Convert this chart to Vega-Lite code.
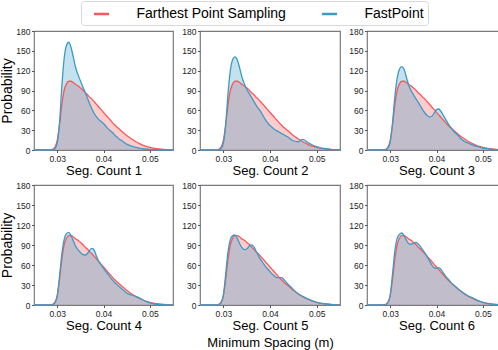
{
  "$schema": "https://vega.github.io/schema/vega-lite/v6.json",
  "padding": {"left": 0, "top": 0, "right": 0, "bottom": 0},
  "background": "white",
  "spacing": 1,
  "datasets": {
    "d": [
      {"x":0.025,"fps":0,"f1":0,"f2":0,"f3":0,"f4":0,"f5":0,"f6":0},
      {"x":0.026,"fps":0,"f1":0,"f2":0,"f3":0,"f4":0,"f5":0,"f6":0},
      {"x":0.027,"fps":0,"f1":0,"f2":0,"f3":0,"f4":0,"f5":0,"f6":0},
      {"x":0.028,"fps":0.1,"f1":0,"f2":0,"f3":0,"f4":0,"f5":0,"f6":0},
      {"x":0.0285,"fps":0.3,"f1":0,"f2":0.1,"f3":0.1,"f4":0.1,"f5":0.1,"f6":0.1},
      {"x":0.029,"fps":1,"f1":0.3,"f2":0.3,"f3":0.5,"f4":0.5,"f5":0.5,"f6":0.5},
      {"x":0.0295,"fps":4,"f1":2,"f2":2,"f3":3,"f4":3,"f5":3,"f6":3},
      {"x":0.03,"fps":14,"f1":10,"f2":10,"f3":12,"f4":12,"f5":14,"f6":14},
      {"x":0.0305,"fps":38,"f1":40,"f2":38,"f3":40,"f4":42,"f5":46,"f6":46},
      {"x":0.031,"fps":68,"f1":95,"f2":85,"f3":80,"f4":76,"f5":80,"f6":80},
      {"x":0.0315,"fps":90,"f1":138,"f2":120,"f3":108,"f4":98,"f5":98,"f6":100},
      {"x":0.032,"fps":100,"f1":158,"f2":137,"f3":122,"f4":107,"f5":104,"f6":106},
      {"x":0.0325,"fps":104,"f1":163,"f2":141,"f3":126,"f4":109,"f5":105,"f6":108},
      {"x":0.033,"fps":104,"f1":155,"f2":136,"f3":122,"f4":104,"f5":100,"f6":104},
      {"x":0.0335,"fps":102,"f1":140,"f2":124,"f3":110,"f4":96,"f5":92,"f6":97},
      {"x":0.034,"fps":99,"f1":124,"f2":110,"f3":98,"f4":88,"f5":86,"f6":92},
      {"x":0.0345,"fps":97,"f1":114,"f2":100,"f3":90,"f4":83,"f5":83,"f6":91},
      {"x":0.035,"fps":94,"f1":105,"f2":92,"f3":84,"f4":79,"f5":84,"f6":93},
      {"x":0.0355,"fps":91,"f1":96,"f2":86,"f3":78,"f4":76,"f5":88,"f6":94},
      {"x":0.036,"fps":87,"f1":88,"f2":80,"f3":73,"f4":75,"f5":90,"f6":92},
      {"x":0.0365,"fps":84,"f1":79,"f2":74,"f3":67,"f4":77,"f5":88,"f6":88},
      {"x":0.037,"fps":80,"f1":70,"f2":68,"f3":61,"f4":82,"f5":81,"f6":83},
      {"x":0.0375,"fps":77,"f1":62,"f2":63,"f3":56,"f4":85,"f5":74,"f6":78},
      {"x":0.038,"fps":73,"f1":55,"f2":58,"f3":52,"f4":82,"f5":68,"f6":72},
      {"x":0.0385,"fps":69,"f1":50,"f2":52,"f3":50,"f4":73,"f5":63,"f6":66},
      {"x":0.039,"fps":65,"f1":46,"f2":46,"f3":51,"f4":65,"f5":58,"f6":60},
      {"x":0.0395,"fps":61,"f1":43,"f2":41,"f3":56,"f4":60,"f5":54,"f6":56},
      {"x":0.04,"fps":57,"f1":40,"f2":37,"f3":61,"f4":55,"f5":50,"f6":55},
      {"x":0.0405,"fps":53,"f1":36,"f2":34,"f3":62,"f4":50,"f5":46,"f6":56},
      {"x":0.041,"fps":49,"f1":32,"f2":31,"f3":58,"f4":46,"f5":43,"f6":53},
      {"x":0.0415,"fps":45,"f1":29,"f2":29,"f3":52,"f4":41,"f5":41,"f6":48},
      {"x":0.042,"fps":41,"f1":26,"f2":27,"f3":46,"f4":37,"f5":41,"f6":43},
      {"x":0.0425,"fps":37.5,"f1":22,"f2":25,"f3":40,"f4":33,"f5":41,"f6":39},
      {"x":0.043,"fps":34,"f1":19,"f2":23,"f3":35,"f4":30,"f5":38,"f6":35},
      {"x":0.0435,"fps":31,"f1":16,"f2":21,"f3":30,"f4":27,"f5":34,"f6":31},
      {"x":0.044,"fps":28,"f1":14,"f2":19,"f3":26,"f4":24,"f5":30,"f6":28},
      {"x":0.0445,"fps":25,"f1":11,"f2":16,"f3":23,"f4":21,"f5":27,"f6":25},
      {"x":0.045,"fps":22,"f1":9,"f2":14,"f3":19,"f4":18,"f5":23,"f6":22},
      {"x":0.046,"fps":17,"f1":6,"f2":12.5,"f3":13,"f4":15,"f5":17,"f6":17},
      {"x":0.047,"fps":12.5,"f1":4,"f2":16,"f3":10,"f4":13,"f5":13,"f6":13},
      {"x":0.048,"fps":9,"f1":2.5,"f2":12,"f3":7,"f4":9.5,"f5":9.5,"f6":10},
      {"x":0.049,"fps":6,"f1":1.5,"f2":8,"f3":5,"f4":6,"f5":6.5,"f6":6.5},
      {"x":0.05,"fps":4,"f1":1,"f2":5,"f3":3,"f4":3,"f5":4,"f6":4},
      {"x":0.051,"fps":2.5,"f1":0.6,"f2":3,"f3":2,"f4":1.5,"f5":2.5,"f6":2},
      {"x":0.052,"fps":1.5,"f1":0.3,"f2":2,"f3":1,"f4":0.8,"f5":1.5,"f6":1},
      {"x":0.053,"fps":0.8,"f1":0.1,"f2":1,"f3":0.5,"f4":0.4,"f5":0.8,"f6":0.5},
      {"x":0.054,"fps":0.4,"f1":0,"f2":0.5,"f3":0.2,"f4":0.2,"f5":0.3,"f6":0.2},
      {"x":0.055,"fps":0.2,"f1":0,"f2":0.3,"f3":0.1,"f4":0.1,"f5":0.1,"f6":0.1}
    ]
  },
  "config": {
    "font": "Liberation Sans",
    "view": {"stroke": "#7a7a7a", "strokeWidth": 1.2},
    "axis": {"domain": false, "grid": false, "labelFont": "Liberation Sans", "labelFontSize": 8.5, "labelColor": "#222", "tickColor": "#555", "tickSize": 2.5, "labelPadding": 1.5, "titleFont": "Liberation Sans", "titleFontSize": 13, "titleFontWeight": "normal", "titleColor": "#000", "titlePadding": 2},
    "axisY": {"titleFontSize": 14, "titlePadding": 1},
    "legend": {"orient": "top", "direction": "horizontal", "title": null, "labelFont": "Liberation Sans", "labelFontSize": 14, "labelColor": "#000", "labelLimit": 0, "symbolType": "M-1,0H1", "symbolStrokeWidth": 2.5, "symbolSize": 225, "symbolOffset": 7.5, "labelOffset": 26, "strokeColor": "#d8d8d8", "padding": 4, "cornerRadius": 3, "columnPadding": 27, "offset": 1, "layout": {"top": {"anchor": "middle"}}}
  },
  "vconcat": [
    {"spacing": 4, "hconcat": [
      {"width": 139, "height": 119, "data": {"name": "d"},
       "encoding": {"x": {"field": "x", "type": "quantitative", "scale": {"domain": [0.025, 0.055], "nice": false, "zero": false}, "axis": {"values": [0.03, 0.04, 0.05], "format": ".2f", "title": "Seg. Count 1"}}},
       "layer": [
        {"mark": {"type": "area", "interpolate": "monotone", "fillOpacity": 0.3}, "encoding": {"y": {"field": "fps", "type": "quantitative", "scale": {"domain": [0, 180], "nice": false}, "axis": {"values": [0,30,60,90,120,150,180], "title": "Probability"}}, "color": {"datum": "Farthest Point Sampling", "scale": {"domain": ["Farthest Point Sampling", "FastPoint"], "range": ["#F8575B", "#3A9BC6"]}}}},
        {"mark": {"type": "area", "interpolate": "monotone", "fillOpacity": 0.3}, "encoding": {"y": {"field": "f1", "type": "quantitative", "axis": {"values": [0,30,60,90,120,150,180], "title": "Probability"}}, "color": {"datum": "FastPoint"}}},
        {"mark": {"type": "line", "interpolate": "monotone", "strokeWidth": 1.3}, "encoding": {"y": {"field": "fps", "type": "quantitative", "axis": {"values": [0,30,60,90,120,150,180], "title": "Probability"}}, "color": {"datum": "Farthest Point Sampling"}}},
        {"mark": {"type": "line", "interpolate": "monotone", "strokeWidth": 1.3}, "encoding": {"y": {"field": "f1", "type": "quantitative", "axis": {"values": [0,30,60,90,120,150,180], "title": "Probability"}}, "color": {"datum": "FastPoint"}}}
       ]},
      {"width": 140, "height": 119, "data": {"name": "d"},
       "encoding": {"x": {"field": "x", "type": "quantitative", "scale": {"domain": [0.025, 0.055], "nice": false, "zero": false}, "axis": {"values": [0.03, 0.04, 0.05], "format": ".2f", "title": "Seg. Count 2"}}},
       "layer": [
        {"mark": {"type": "area", "interpolate": "monotone", "fillOpacity": 0.3}, "encoding": {"y": {"field": "fps", "type": "quantitative", "scale": {"domain": [0, 180], "nice": false}, "axis": {"values": [0,30,60,90,120,150,180], "title": null}}, "color": {"datum": "Farthest Point Sampling"}}},
        {"mark": {"type": "area", "interpolate": "monotone", "fillOpacity": 0.3}, "encoding": {"y": {"field": "f2", "type": "quantitative", "axis": {"values": [0,30,60,90,120,150,180], "title": null}}, "color": {"datum": "FastPoint"}}},
        {"mark": {"type": "line", "interpolate": "monotone", "strokeWidth": 1.3}, "encoding": {"y": {"field": "fps", "type": "quantitative", "axis": {"values": [0,30,60,90,120,150,180], "title": null}}, "color": {"datum": "Farthest Point Sampling"}}},
        {"mark": {"type": "line", "interpolate": "monotone", "strokeWidth": 1.3}, "encoding": {"y": {"field": "f2", "type": "quantitative", "axis": {"values": [0,30,60,90,120,150,180], "title": null}}, "color": {"datum": "FastPoint"}}}
       ]},
      {"width": 139, "height": 119, "data": {"name": "d"},
       "encoding": {"x": {"field": "x", "type": "quantitative", "scale": {"domain": [0.025, 0.055], "nice": false, "zero": false}, "axis": {"values": [0.03, 0.04, 0.05], "format": ".2f", "title": "Seg. Count 3"}}},
       "layer": [
        {"mark": {"type": "area", "interpolate": "monotone", "fillOpacity": 0.3}, "encoding": {"y": {"field": "fps", "type": "quantitative", "scale": {"domain": [0, 180], "nice": false}, "axis": {"values": [0,30,60,90,120,150,180], "title": null}}, "color": {"datum": "Farthest Point Sampling"}}},
        {"mark": {"type": "area", "interpolate": "monotone", "fillOpacity": 0.3}, "encoding": {"y": {"field": "f3", "type": "quantitative", "axis": {"values": [0,30,60,90,120,150,180], "title": null}}, "color": {"datum": "FastPoint"}}},
        {"mark": {"type": "line", "interpolate": "monotone", "strokeWidth": 1.3}, "encoding": {"y": {"field": "fps", "type": "quantitative", "axis": {"values": [0,30,60,90,120,150,180], "title": null}}, "color": {"datum": "Farthest Point Sampling"}}},
        {"mark": {"type": "line", "interpolate": "monotone", "strokeWidth": 1.3}, "encoding": {"y": {"field": "f3", "type": "quantitative", "axis": {"values": [0,30,60,90,120,150,180], "title": null}}, "color": {"datum": "FastPoint"}}}
       ]}
    ]},
    {"spacing": 4, "hconcat": [
      {"width": 139, "height": 120, "data": {"name": "d"},
       "encoding": {"x": {"field": "x", "type": "quantitative", "scale": {"domain": [0.025, 0.055], "nice": false, "zero": false}, "axis": {"values": [0.03, 0.04, 0.05], "format": ".2f", "title": "Seg. Count 4"}}},
       "layer": [
        {"mark": {"type": "area", "interpolate": "monotone", "fillOpacity": 0.3}, "encoding": {"y": {"field": "fps", "type": "quantitative", "scale": {"domain": [0, 180], "nice": false}, "axis": {"values": [0,30,60,90,120,150,180], "title": "Probability"}}, "color": {"datum": "Farthest Point Sampling"}}},
        {"mark": {"type": "area", "interpolate": "monotone", "fillOpacity": 0.3}, "encoding": {"y": {"field": "f4", "type": "quantitative", "axis": {"values": [0,30,60,90,120,150,180], "title": "Probability"}}, "color": {"datum": "FastPoint"}}},
        {"mark": {"type": "line", "interpolate": "monotone", "strokeWidth": 1.3}, "encoding": {"y": {"field": "fps", "type": "quantitative", "axis": {"values": [0,30,60,90,120,150,180], "title": "Probability"}}, "color": {"datum": "Farthest Point Sampling"}}},
        {"mark": {"type": "line", "interpolate": "monotone", "strokeWidth": 1.3}, "encoding": {"y": {"field": "f4", "type": "quantitative", "axis": {"values": [0,30,60,90,120,150,180], "title": "Probability"}}, "color": {"datum": "FastPoint"}}}
       ]},
      {"width": 140, "height": 120, "data": {"name": "d"},
       "encoding": {"x": {"field": "x", "type": "quantitative", "scale": {"domain": [0.025, 0.055], "nice": false, "zero": false}, "axis": {"values": [0.03, 0.04, 0.05], "format": ".2f", "title": ["Seg. Count 5", "Minimum Spacing (m)"], "titleLineHeight": 17}}},
       "layer": [
        {"mark": {"type": "area", "interpolate": "monotone", "fillOpacity": 0.3}, "encoding": {"y": {"field": "fps", "type": "quantitative", "scale": {"domain": [0, 180], "nice": false}, "axis": {"values": [0,30,60,90,120,150,180], "title": null}}, "color": {"datum": "Farthest Point Sampling"}}},
        {"mark": {"type": "area", "interpolate": "monotone", "fillOpacity": 0.3}, "encoding": {"y": {"field": "f5", "type": "quantitative", "axis": {"values": [0,30,60,90,120,150,180], "title": null}}, "color": {"datum": "FastPoint"}}},
        {"mark": {"type": "line", "interpolate": "monotone", "strokeWidth": 1.3}, "encoding": {"y": {"field": "fps", "type": "quantitative", "axis": {"values": [0,30,60,90,120,150,180], "title": null}}, "color": {"datum": "Farthest Point Sampling"}}},
        {"mark": {"type": "line", "interpolate": "monotone", "strokeWidth": 1.3}, "encoding": {"y": {"field": "f5", "type": "quantitative", "axis": {"values": [0,30,60,90,120,150,180], "title": null}}, "color": {"datum": "FastPoint"}}}
       ]},
      {"width": 139, "height": 120, "data": {"name": "d"},
       "encoding": {"x": {"field": "x", "type": "quantitative", "scale": {"domain": [0.025, 0.055], "nice": false, "zero": false}, "axis": {"values": [0.03, 0.04, 0.05], "format": ".2f", "title": "Seg. Count 6"}}},
       "layer": [
        {"mark": {"type": "area", "interpolate": "monotone", "fillOpacity": 0.3}, "encoding": {"y": {"field": "fps", "type": "quantitative", "scale": {"domain": [0, 180], "nice": false}, "axis": {"values": [0,30,60,90,120,150,180], "title": null}}, "color": {"datum": "Farthest Point Sampling"}}},
        {"mark": {"type": "area", "interpolate": "monotone", "fillOpacity": 0.3}, "encoding": {"y": {"field": "f6", "type": "quantitative", "axis": {"values": [0,30,60,90,120,150,180], "title": null}}, "color": {"datum": "FastPoint"}}},
        {"mark": {"type": "line", "interpolate": "monotone", "strokeWidth": 1.3}, "encoding": {"y": {"field": "fps", "type": "quantitative", "axis": {"values": [0,30,60,90,120,150,180], "title": null}}, "color": {"datum": "Farthest Point Sampling"}}},
        {"mark": {"type": "line", "interpolate": "monotone", "strokeWidth": 1.3}, "encoding": {"y": {"field": "f6", "type": "quantitative", "axis": {"values": [0,30,60,90,120,150,180], "title": null}}, "color": {"datum": "FastPoint"}}}
       ]}
    ]}
  ]
}
